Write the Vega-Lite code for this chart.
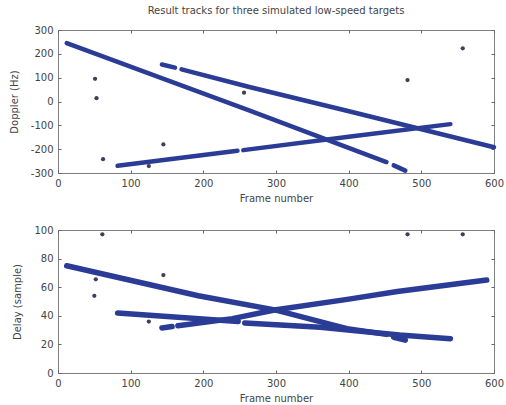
{
  "$schema": "https://vega.github.io/schema/vega-lite/v6.json",
  "autosize": {"type": "pad"},
  "padding": {"left": 8, "top": 5, "right": 0, "bottom": 0},
  "background": "white",
  "bounds": "flush",
  "spacing": 57,
  "config": {
    "view": {"stroke": "#808080", "strokeWidth": 1},
    "axis": {
      "domain": false, "grid": false, "tickColor": "#666", "tickSize": -3,
      "labelFont": "DejaVu Sans", "labelFontSize": 10, "labelColor": "#444",
      "titleFont": "DejaVu Sans", "titleFontSize": 10, "titleFontWeight": "normal", "titleColor": "#444",
      "labelPadding": 8, "labelFlush": false, "labelOverlap": false
    }
  },
  "vconcat": [
    {
      "width": 436, "height": 143,
      "title": {"text": "Result tracks for three simulated low-speed targets", "font": "DejaVu Sans", "fontSize": 10, "fontWeight": "normal", "color": "#444", "anchor": "middle", "offset": 9},
      "layer": [
        {
          "data": {"values": [
            {"seg": "A1", "frame": 12, "v": 245}, {"seg": "A1", "frame": 262, "v": -36}, {"seg": "A1", "frame": 452, "v": -254},
            {"seg": "A2", "frame": 462, "v": -268}, {"seg": "A2", "frame": 478, "v": -290},
            {"seg": "B1", "frame": 143, "v": 155}, {"seg": "B1", "frame": 161, "v": 142},
            {"seg": "B2", "frame": 170, "v": 135}, {"seg": "B2", "frame": 262, "v": 62}, {"seg": "B2", "frame": 399, "v": -40}, {"seg": "B2", "frame": 600, "v": -192},
            {"seg": "C1", "frame": 82, "v": -270}, {"seg": "C1", "frame": 247, "v": -207},
            {"seg": "C2", "frame": 255, "v": -204}, {"seg": "C2", "frame": 400, "v": -148}, {"seg": "C2", "frame": 540, "v": -95}
          ]},
          "mark": {"type": "line", "strokeWidth": 4.5, "color": "#2a3c96", "strokeCap": "round"},
          "encoding": {
            "x": {"field": "frame", "type": "quantitative", "scale": {"domain": [0, 600], "nice": false},
                  "axis": {"values": [0, 100, 200, 300, 400, 500, 600], "title": "Frame number", "titleY": 25, "titleBaseline": "middle"}},
            "y": {"field": "v", "type": "quantitative", "scale": {"domain": [-300, 300], "nice": false},
                  "axis": {"values": [-300, -200, -100, 0, 100, 200, 300], "title": "Doppler (Hz)", "titleX": -44, "titleBaseline": "middle",
                           "labelExpr": "replace(datum.label, '\u2212', '-')"}},
            "detail": {"field": "seg"}
          }
        },
        {
          "data": {"values": [
            {"frame": 51, "v": 95}, {"frame": 53, "v": 14}, {"frame": 62, "v": -242}, {"frame": 145, "v": -180},
            {"frame": 125, "v": -271}, {"frame": 256, "v": 37}, {"frame": 481, "v": 90}, {"frame": 557, "v": 223}
          ]},
          "mark": {"type": "point", "filled": true, "shape": "circle", "size": 18, "color": "#2e2848", "opacity": 0.9},
          "encoding": {
            "x": {"field": "frame", "type": "quantitative", "axis": {"orient": "top", "labels": false, "title": null, "values": [0, 100, 200, 300, 400, 500, 600]}},
            "y": {"field": "v", "type": "quantitative", "axis": {"orient": "right", "labels": false, "title": null, "values": [-300, -200, -100, 0, 100, 200, 300]}}
          }
        }
      ],
      "resolve": {"axis": {"x": "independent", "y": "independent"}}
    },
    {
      "width": 436, "height": 143,
      "layer": [
        {
          "data": {"values": [
            {"seg": "D1", "frame": 12, "v": 75}, {"seg": "D1", "frame": 193, "v": 54}, {"seg": "D1", "frame": 300, "v": 44}, {"seg": "D1", "frame": 375, "v": 34}, {"seg": "D1", "frame": 398, "v": 31}, {"seg": "D1", "frame": 452, "v": 27},
            {"seg": "D1b", "frame": 462, "v": 25}, {"seg": "D1b", "frame": 478, "v": 23},
            {"seg": "D2", "frame": 82, "v": 42}, {"seg": "D2", "frame": 248, "v": 36},
            {"seg": "D2b", "frame": 257, "v": 35}, {"seg": "D2b", "frame": 361, "v": 32}, {"seg": "D2b", "frame": 420, "v": 29}, {"seg": "D2b", "frame": 470, "v": 26.5}, {"seg": "D2b", "frame": 540, "v": 24},
            {"seg": "D3a", "frame": 143, "v": 31.5}, {"seg": "D3a", "frame": 157, "v": 32.5},
            {"seg": "D3b", "frame": 165, "v": 33}, {"seg": "D3b", "frame": 240, "v": 38}, {"seg": "D3b", "frame": 298, "v": 44}, {"seg": "D3b", "frame": 398, "v": 51.5}, {"seg": "D3b", "frame": 467, "v": 57}, {"seg": "D3b", "frame": 590, "v": 65}
          ]},
          "mark": {"type": "line", "strokeWidth": 5.5, "color": "#2a3c96", "strokeCap": "round"},
          "encoding": {
            "x": {"field": "frame", "type": "quantitative", "scale": {"domain": [0, 600], "nice": false},
                  "axis": {"values": [0, 100, 200, 300, 400, 500, 600], "title": "Frame number", "titleY": 25, "titleBaseline": "middle"}},
            "y": {"field": "v", "type": "quantitative", "scale": {"domain": [0, 100], "nice": false},
                  "axis": {"values": [0, 20, 40, 60, 80, 100], "title": "Delay (sample)", "titleX": -41, "titleBaseline": "middle"}},
            "detail": {"field": "seg"}
          }
        },
        {
          "data": {"values": [
            {"frame": 50, "v": 54}, {"frame": 52, "v": 65.5}, {"frame": 61, "v": 97}, {"frame": 145, "v": 68.5},
            {"frame": 125, "v": 36}, {"frame": 481, "v": 97}, {"frame": 557, "v": 97}
          ]},
          "mark": {"type": "point", "filled": true, "shape": "circle", "size": 18, "color": "#2e2848", "opacity": 0.9},
          "encoding": {
            "x": {"field": "frame", "type": "quantitative", "axis": {"orient": "top", "labels": false, "title": null, "values": [0, 100, 200, 300, 400, 500, 600]}},
            "y": {"field": "v", "type": "quantitative", "axis": {"orient": "right", "labels": false, "title": null, "values": [0, 20, 40, 60, 80, 100]}}
          }
        }
      ],
      "resolve": {"axis": {"x": "independent", "y": "independent"}}
    }
  ]
}
